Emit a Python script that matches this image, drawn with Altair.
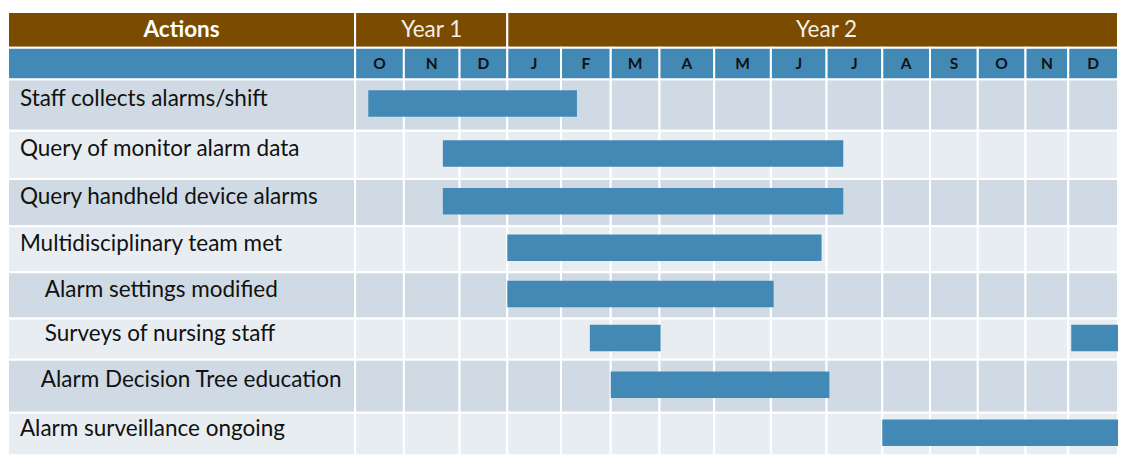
import altair as alt
import pandas as pd

# ---------------- data ----------------
tasks = [
    "Staff collects alarms/shift",
    "Query of monitor alarm data",
    "Query handheld device alarms",
    "Multidisciplinary team met",
    "Alarm settings modified",
    "Surveys of nursing staff",
    "Alarm Decision Tree education",
    "Alarm surveillance ongoing",
]
months = ["O", "N", "D", "J", "F", "M", "A", "M", "J", "J", "A", "S", "O", "N", "D"]
years = ["Year 1", "Year 2"]
year_start = [0, 3]
year_end = [3, 15]

# bars: task index, start and end in months from start of October (Year 1)
bar_task = [0, 1, 2, 3, 4, 5, 5, 6, 7]
bar_start = [0.27, 1.70, 1.70, 3.00, 3.00, 4.58, 14.06, 5.00, 10.00]
bar_end = [4.32, 9.30, 9.30, 8.91, 8.05, 6.02, 15.00, 9.05, 15.00]

# ---------------- layout (table grid, uneven columns/rows) ----------------
W, H = 1110, 452
ref_x = [5, 354, 403, 459, 507, 561, 611, 660, 715, 772, 828, 884, 932, 980, 1028, 1071, 1121]
ref_y = [4, 44.5, 76.5, 129, 178, 226, 273, 320, 362, 416, 464]
sx = W / (ref_x[-1] - ref_x[0])
sy = H / (ref_y[-1] - ref_y[0])
x_range = [(v - ref_x[0]) * sx for v in ref_x]
y_range = [(v - ref_y[0]) * sy for v in ref_y]
x_dom = list(range(-1, 16))
y_dom = list(range(0, 11))

xs = alt.Scale(domain=x_dom, range=x_range, nice=False, zero=False, clamp=True)
ys = alt.Scale(domain=y_dom, range=y_range, nice=False, zero=False, clamp=True)

# text indentation of the label column (pixels, style)
indent_px = [12, 12, 12, 12, 37, 37, 33, 12]
first_col_px = ref_x[1] - ref_x[0]

BROWN = "#7B4B00"
BLUE = "#4389B5"
DARK = "#CFDAE4"
LIGHT = "#E8EDF2"
FONT = "Lato"
BIG = 22.5

# body cells
cells = []
for r in range(len(tasks)):
    for c in range(-1, len(months)):
        cells.append({"x": c, "x2": c + 1, "y": r + 2, "y2": r + 3,
                      "fill": DARK if r % 2 == 0 else LIGHT})
# header cells
hdr = [{"x": -1, "x2": 0, "y": 0, "y2": 1, "fill": BROWN}]
for i, y in enumerate(years):
    hdr.append({"x": year_start[i], "x2": year_end[i], "y": 0, "y2": 1, "fill": BROWN})
hdr.append({"x": -1, "x2": 0, "y": 1, "y2": 2, "fill": BLUE})
for c in range(len(months)):
    hdr.append({"x": c, "x2": c + 1, "y": 1, "y2": 2, "fill": BLUE})
grid_df = pd.DataFrame(cells + hdr)

grid = alt.Chart(grid_df).mark_rect(stroke="white", strokeWidth=2).encode(
    x=alt.X("x:Q", scale=xs, axis=None),
    x2="x2:Q",
    y=alt.Y("y:Q", scale=ys, axis=None),
    y2="y2:Q",
    fill=alt.Fill("fill:N", scale=None),
)

# header texts
top_df = pd.DataFrame({
    "label": ["Actions"] + years,
    "xc": [-0.5] + [(a + b) / 2 for a, b in zip(year_start, year_end)],
    "bold": ["bold", "normal", "normal"],
})
top_bold = alt.Chart(top_df[top_df.bold == "bold"]).mark_text(
    font=FONT, fontSize=BIG, fontWeight="bold", color="white", baseline="middle"
).encode(
    x=alt.X("xc:Q", scale=xs, axis=None),
    y=alt.Y("yc:Q", scale=ys, axis=None),
    text="label:N",
).transform_calculate(yc="0.5")
top_norm = alt.Chart(top_df[top_df.bold == "normal"]).mark_text(
    font=FONT, fontSize=BIG, color="#F4F0EA", baseline="middle"
).encode(
    x=alt.X("xc:Q", scale=xs, axis=None),
    y=alt.Y("yc:Q", scale=ys, axis=None),
    text="label:N",
).transform_calculate(yc="0.5")

month_df = pd.DataFrame({"label": months, "idx": list(range(len(months)))})
month_txt = alt.Chart(month_df).mark_text(
    font=FONT, fontSize=15.5, fontWeight="bold", color="#111111", baseline="middle"
).transform_calculate(xc="datum.idx + 0.5", yc="1.5").encode(
    x=alt.X("xc:Q", scale=xs, axis=None),
    y=alt.Y("yc:Q", scale=ys, axis=None),
    text="label:N",
)

# bars
bar_df = pd.DataFrame({"task": bar_task, "start": bar_start, "end": bar_end})
bars = alt.Chart(bar_df).mark_bar(size=27 * sy, color=BLUE, orient="horizontal").transform_calculate(
    yc="datum.task + 2.47"
).encode(
    x=alt.X("start:Q", scale=xs, axis=None),
    x2="end:Q",
    y=alt.Y("yc:Q", scale=ys, axis=None),
)

# task labels
task_df = pd.DataFrame({
    "label": tasks,
    "idx": list(range(len(tasks))),
    "xc": [-1 + p / first_col_px for p in indent_px],
})
task_txt = alt.Chart(task_df).mark_text(
    font=FONT, fontSize=BIG, color="#111111", align="left", baseline="middle"
).transform_calculate(yc="datum.idx + 2.38").encode(
    x=alt.X("xc:Q", scale=xs, axis=None),
    y=alt.Y("yc:Q", scale=ys, axis=None),
    text="label:N",
)

chart = alt.layer(grid, top_bold, top_norm, month_txt, bars, task_txt).properties(
    width=W, height=H, padding=0, autosize="none"
).configure_view(stroke=None)

chart.save("out.html", embed_options={"renderer": "svg", "actions": False})
